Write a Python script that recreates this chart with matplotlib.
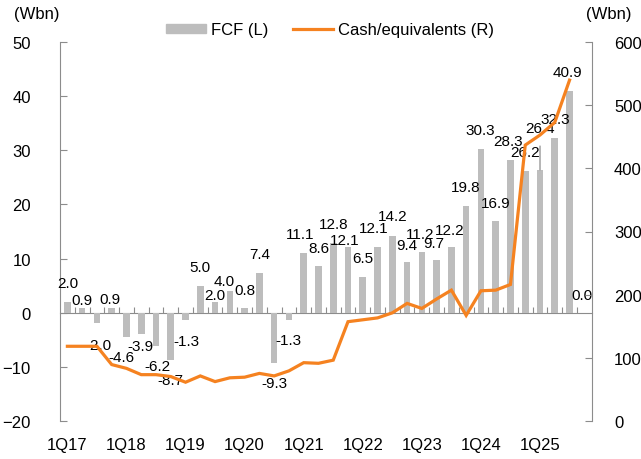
import numpy as np
import matplotlib.pyplot as plt
from matplotlib.patches import Patch
from matplotlib.lines import Line2D

plt.rcParams['font.family'] = ['Liberation Sans', 'DejaVu Sans']

quarters = ['1Q17', '2Q17', '3Q17', '4Q17', '1Q18', '2Q18', '3Q18', '4Q18',
            '1Q19', '2Q19', '3Q19', '4Q19', '1Q20', '2Q20', '3Q20', '4Q20',
            '1Q21', '2Q21', '3Q21', '4Q21', '1Q22', '2Q22', '3Q22', '4Q22',
            '1Q23', '2Q23', '3Q23', '4Q23', '1Q24', '2Q24', '3Q24', '4Q24',
            '1Q25', '2Q25', '3Q25', '4Q25']

fcf = [2.0, 0.9, -2.0, 0.9, -4.6, -3.9, -6.2, -8.7,
       -1.3, 5.0, 2.0, 4.0, 0.8, 7.4, -9.3, -1.3,
       11.1, 8.6, 12.8, 12.1, 6.5, 12.1, 14.2, 9.4,
       11.2, 9.7, 12.2, 19.8, 30.3, 16.9, 28.3, 26.2,
       26.4, 32.3, 40.9, 0.0]

cash = [118, 118, 118, 89, 83, 73, 73, 70,
        61, 71, 62, 68, 69, 75, 71, 79,
        92, 91, 96, 157, 160, 163, 171, 186,
        178, 193, 207, 167, 206, 207, 216, 437,
        453, 473, 540, np.nan]

# label nudges in pixels (dx, dy) relative to bar end
label_off = [(0, 19), (0, 8), (2, -22), (-2, 9), (-5, -20), (-1, -12), (1, -20), (0, -20),
             (1, -21), (0, 19), (0, 7), (-6, 10), (0, 18), (0, 19), (0, -20), (0, -20),
             (-4, 19), (0, 18), (0, 19), (-3, 7), (0, 19), (-4, 19), (0, 20), (0, 17),
             (-2, 18), (-3, 17), (-2, 17), (0, 19), (-1, 19), (0, 18), (-2, 19), (0, 19),
             (0, 42), (0, 19), (-2, 19), (-2, 18)]

bar_color = '#BDBDBD'
line_color = '#F58220'
axis_color = '#8C8C8C'
fs_tick = 12
fs_label = 11

fig = plt.figure(figsize=(6.41, 4.60), dpi=100)
ax = fig.add_axes([60 / 641, 1 - 421.7 / 460, (591.7 - 60) / 641, (421.7 - 43.3) / 460])
ax2 = ax.twinx()

x = np.arange(len(quarters))
ax.bar(x, fcf, width=0.45, color=bar_color, zorder=2)
ax2.plot(x, cash, color=line_color, lw=2.3, solid_joinstyle='miter')

for i, v in enumerate(fcf):
    dx, dy = label_off[i]
    if i == 32:
        ax.annotate(f'{v:.1f}', xy=(i, v), xytext=(dx, dy), textcoords='offset pixels',
                    ha='center', va='center', fontsize=fs_label,
                    arrowprops=dict(arrowstyle='-', color='#7F7F7F', lw=0.8, shrinkA=6, shrinkB=0))
    else:
        ax.annotate(f'{v:.1f}', xy=(i, v), xytext=(dx, dy), textcoords='offset pixels',
                    ha='center', va='center', fontsize=fs_label)

ax.set_xlim(-0.5, len(quarters) - 0.5)
ax.set_ylim(-20, 50)
ax.set_yticks(range(-20, 51, 10))
ax2.set_ylim(0, 600)
ax2.set_yticks(range(0, 601, 100))

ax.set_xticks(x[::4])
ax.set_xticklabels(quarters[::4])
ax.tick_params(axis='x', length=0, pad=12, labelsize=fs_tick)
ax.tick_params(axis='y', direction='in', length=5, color=axis_color, pad=21, labelsize=fs_tick)
ax2.tick_params(axis='y', direction='in', length=5, color=axis_color, pad=16, labelsize=fs_tick)

for a in (ax, ax2):
    a.spines['top'].set_visible(False)
    a.spines['bottom'].set_visible(False)
    a.spines['left'].set_color(axis_color)
    a.spines['right'].set_color(axis_color)
ax2.spines['left'].set_visible(False)
ax.spines['right'].set_visible(False)

# category axis line at zero with ticks between quarters
zero_ax = ax.secondary_xaxis(20 / 70)
zero_ax.set_xticks(x[:-1] + 0.5)
zero_ax.tick_params(direction='in', length=4, color=axis_color, labelbottom=False)
zero_ax.spines['bottom'].set_color(axis_color)

fig.text(37 / 641, 1 - 15 / 460, '(Wbn)', ha='center', va='center', fontsize=fs_tick)
fig.text(609 / 641, 1 - 15 / 460, '(Wbn)', ha='center', va='center', fontsize=fs_tick)

handles = [Patch(color=bar_color), Line2D([0], [0], color=line_color, lw=2.3)]
fig.legend(handles, ['FCF (L)', 'Cash/equivalents (R)'], ncol=2, loc='center',
           bbox_to_anchor=(330 / 641, 1 - 31 / 460), frameon=False, fontsize=fs_tick,
           handlelength=2.4, handleheight=0.5, handletextpad=0.3, columnspacing=1.5)

fig.savefig('out.png', dpi=100)
